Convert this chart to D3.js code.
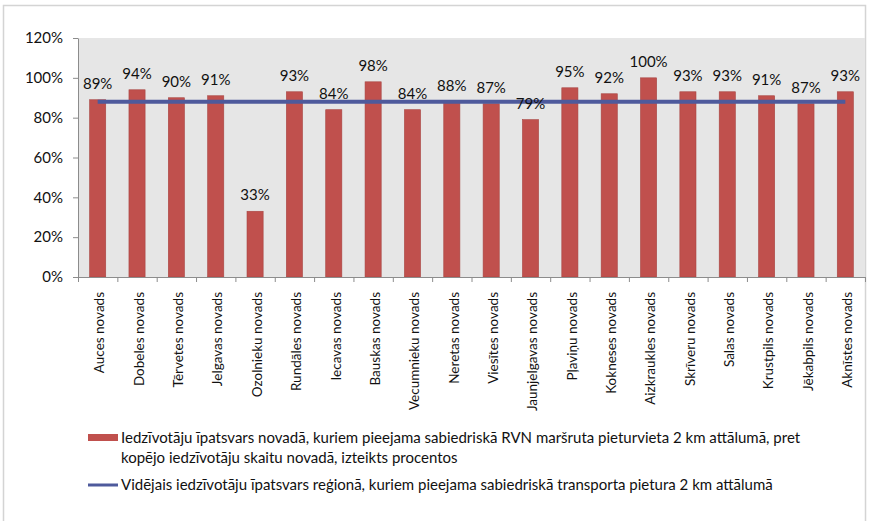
<!DOCTYPE html>
<html>
<head>
<meta charset="utf-8">
<script src="https://cdn.jsdelivr.net/npm/d3@7"></script>
<style>
  html, body { margin: 0; padding: 0; background: #fff; }
  svg { display: block; font-family: Lato, "Open Sans", sans-serif; }
</style>
</head>
<body>
<div id="chart"></div>
<script>
// Chart data.
const categories = [
    'Auces novads', 'Dobeles novads', 'Tērvetes novads', 'Jelgavas novads', 'Ozolnieku novads',
    'Rundāles novads', 'Iecavas novads', 'Bauskas novads', 'Vecumnieku novads', 'Neretas novads',
    'Viesītes novads', 'Jaunjelgavas novads', 'Pļaviņu novads', 'Kokneses novads', 'Aizkraukles novads',
    'Skrīveru novads', 'Salas novads', 'Krustpils novads', 'Jēkabpils novads', 'Aknīstes novads'
];
const values = [89, 94, 90, 91, 33, 93, 84, 98, 84, 88, 87, 79, 95, 92, 100, 93, 93, 91, 87, 93];
const averageValue = 88;
const yTicks = [0, 20, 40, 60, 80, 100, 120];
const legendBars = [
    'Iedzīvotāju īpatsvars novadā, kuriem pieejama sabiedriskā RVN maršruta pieturvieta 2 km attālumā, pret',
    'kopējo iedzīvotāju skaitu novadā, izteikts procentos'
];
const legendLine = 'Vidējais iedzīvotāju īpatsvars reģionā, kuriem pieejama sabiedriskā transporta pietura 2 km attālumā';

const width = 869;
const height = 521;
const plot = {left: 78, right: 865, top: 38, bottom: 277};

const svg = d3.select('#chart')
    .append('svg')
        .attr('width', width)
        .attr('height', height);

// Outer frame.
svg.append('rect')
    .attr('x', 3.5)
    .attr('y', 5.5)
    .attr('width', 862)
    .attr('height', 530)
    .attr('fill', 'none')
    .attr('stroke', '#d4d4d4')
    .attr('stroke-width', 1.5);

// Plot background.
svg.append('rect')
    .attr('x', plot.left)
    .attr('y', plot.top)
    .attr('width', plot.right - plot.left)
    .attr('height', plot.bottom - plot.top)
    .attr('fill', '#e6e6e6');

// Scales.
const x = d3.scaleBand()
    .domain(categories)
    .range([plot.left, plot.right])
    .padding(0);
const y = d3.scaleLinear()
    .domain([0, 120])
    .range([plot.bottom, plot.top]);
const barWidth = x.bandwidth() * 0.41;

// Y axis.
const yAxis = svg.append('g')
    .attr('transform', `translate(${plot.left},0)`)
    .call(d3.axisLeft(y)
        .tickValues(yTicks)
        .tickFormat(d => d + '%')
        .tickSize(5)
        .tickSizeOuter(0)
        .tickPadding(10));
yAxis.selectAll('text')
    .style('font-size', '15px')
    .style('font-family', 'Lato, sans-serif')
    .attr('fill', '#111');
yAxis.selectAll('line, path').attr('stroke', '#8c8c8c');

// Bars.
svg.append('g')
    .selectAll('rect')
    .data(values)
    .join('rect')
        .attr('x', (d, i) => x(categories[i]) + (x.bandwidth() - barWidth) / 2)
        .attr('y', d => y(d))
        .attr('width', barWidth)
        .attr('height', d => y(0) - y(d))
        .attr('fill', '#c0504d')
        .attr('stroke', '#a84542')
        .attr('stroke-width', 0.6);

// X axis: tick marks at category boundaries.
const xEdges = d3.scaleLinear()
    .domain([0, categories.length])
    .range([plot.left, plot.right]);
const xTickAxis = svg.append('g')
    .attr('transform', `translate(0,${plot.bottom})`)
    .call(d3.axisBottom(xEdges)
        .tickValues(d3.range(categories.length + 1))
        .tickFormat('')
        .tickSize(5)
        .tickSizeOuter(0));
xTickAxis.selectAll('line, path').attr('stroke', '#8c8c8c');

// X axis labels, rotated.
const xLabelAxis = svg.append('g')
    .attr('transform', `translate(0,${plot.bottom})`)
    .call(d3.axisBottom(x).tickSize(0));
xLabelAxis.select('path').remove();
xLabelAxis.selectAll('text')
    .attr('transform', 'rotate(-90)')
    .attr('x', -15)
    .attr('y', 2)
    .attr('dy', '0.35em')
    .style('text-anchor', 'end')
    .style('font-size', '13.5px')
    .style('font-family', 'Lato, sans-serif')
    .attr('fill', '#111');

// Average line across the category centres.
svg.append('path')
    .datum(categories)
    .attr('fill', 'none')
    .attr('stroke', '#4e5a9c')
    .attr('stroke-width', 4)
    .attr('d', d3.line()
        .x(d => x(d) + x.bandwidth() / 2)
        .y(() => y(averageValue)));

// Data labels.
svg.append('g')
    .selectAll('text')
    .data(values)
    .join('text')
        .attr('x', (d, i) => x(categories[i]) + x.bandwidth() / 2)
        .attr('y', d => y(d) - 11)
        .attr('text-anchor', 'middle')
        .style('font-size', '15px')
        .attr('fill', '#111')
        .text(d => d + '%');

// Legend.
const legend = svg.append('g');
legend.append('rect')
    .attr('x', 88)
    .attr('y', 434)
    .attr('width', 30)
    .attr('height', 7)
    .attr('fill', '#c0504d');
legend.selectAll('text.bar')
    .data(legendBars)
    .join('text')
        .attr('class', 'bar')
        .attr('x', 121)
        .attr('y', (d, i) => 438 + i * 20)
        .attr('dy', '0.35em')
        .style('font-size', '15px')
        .attr('fill', '#111')
        .text(d => d);
legend.append('line')
    .attr('x1', 88)
    .attr('x2', 118)
    .attr('y1', 485)
    .attr('y2', 485)
    .attr('stroke', '#4e5a9c')
    .attr('stroke-width', 3);
legend.append('text')
    .attr('x', 121)
    .attr('y', 485)
    .attr('dy', '0.35em')
    .style('font-size', '15px')
    .attr('fill', '#111')
    .text(legendLine);
</script>
</body>
</html>
